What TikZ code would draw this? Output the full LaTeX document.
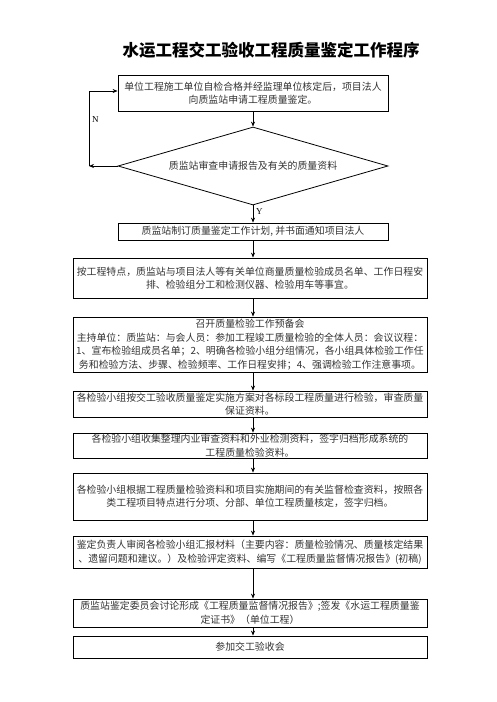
\documentclass[tikz,border=0pt]{standalone}
\usepackage{fontspec}
\setmainfont{Liberation Serif}
\newfontfamily\cjk{Noto Sans CJK SC}
\usetikzlibrary{shapes.geometric,arrows.meta}
\tikzset{
  txt/.style={font=\cjk\fontsize{9.9}{13.5}\selectfont, text=black!80},
  box/.style={draw, line width=0.8pt, txt, align=center, inner sep=1pt},
  narrowbox/.style={box, minimum width=270pt},
  widebox/.style={box, minimum width=354pt},
  arr/.style={line width=0.7pt, -{Stealth[length=5pt,width=4pt]}},
  lbl/.style={font=\fontsize{9}{10}\selectfont, inner sep=0pt}
}
\begin{document}
\begin{tikzpicture}[x=1pt,y=-1pt]
\useasboundingbox (0,0) rectangle (496,702);
\node[font=\cjk\bfseries\fontsize{16.5}{18}\selectfont] (title) at (271,50) {水运工程交工验收工程质量鉴定工作程序};
\node[narrowbox, minimum height=36pt] (b1) at (253,93) {单位工程施工单位自检合格并经监理单位核定后，项目法人\\向质监站申请工程质量鉴定。};
\node[draw, line width=0.8pt, diamond, aspect=3.46, minimum width=270pt, minimum height=78pt, inner sep=0pt, txt] (d) at (253,166) {质监站审查申请报告及有关的质量资料};
\node[narrowbox, minimum height=17pt] (b3) at (253,231.5) {质监站制订质量鉴定工作计划, 并书面通知项目法人};
\node[widebox, minimum height=40pt] (b4) at (250,278) {按工程特点，质监站与项目法人等有关单位商量质量检验成员名单、工作日程安\\排、检验组分工和检测仪器、检验用车等事宜。};
\node[widebox, minimum height=55pt] (b5) at (250,344.5) {召开质量检验工作预备会\\主持单位：质监站：与会人员：参加工程竣工质量检验的全体人员：会议议程：\\1、宣布检验组成员名单；2、明确各检验小组分组情况，各小组具体检验工作任\\务和检验方法、步骤、检验频率、工作日程安排；4、强调检验工作注意事项。};
\node[widebox, minimum height=26pt] (b6) at (250,404) {各检验小组按交工验收质量鉴定实施方案对各标段工程质量进行检验，审查质量\\保证资料。};
\node[widebox, minimum height=25pt] (b7) at (250,445.5) {各检验小组收集整理内业审查资料和外业检测资料，签字归档形成系统的\\工程质量检验资料。};
\node[widebox, minimum height=47pt] (b8) at (250,496.5) {各检验小组根据工程质量检验资料和项目实施期间的有关监督检查资料，按照各\\类工程项目特点进行分项、分部、单位工程质量核定，签字归档。};
\node[widebox, minimum height=32pt] (b9) at (250,552) {鉴定负责人审阅各检验小组汇报材料（主要内容：质量检验情况、质量核定结果\\、遗留问题和建议。）及检验评定资料、编写《工程质量监督情况报告》(初稿)};
\node[widebox, minimum height=28pt] (b10) at (250,613) {质监站鉴定委员会讨论形成《工程质量监督情况报告》;签发《水运工程质量鉴\\定证书》（单位工程）};
\node[widebox, minimum height=22pt] (b11) at (250,647) {参加交工验收会};
\coordinate (c1) at (89,166);
\coordinate (c2) at (89,91);
\draw[arr] (b1.south) -- (d.north);
\draw[arr] (d.west) -- (c1);
\draw[arr] (c1) -- (c2) -- (c2 -| b1.west);
\node[lbl, anchor=north west] (n) at (92,116) {N};
\draw[arr] (d.south) -- (d.south |- b3.north);
\node[lbl, anchor=north west] (y) at (256,208) {Y};
\draw[arr] (b3.south) -- (b3.south |- b4.north);
\draw[arr] (b3.south |- b4.south) -- (b3.south |- b5.north);
\draw[arr] (b3.south |- b5.south) -- (b3.south |- b6.north);
\draw[arr] (b3.south |- b6.south) -- (b3.south |- b7.north);
\draw[arr] (b3.south |- b7.south) -- (b3.south |- b8.north);
\draw[arr] (b3.south |- b8.south) -- (b3.south |- b9.north);
\draw[arr] (b3.south |- b9.south) -- (b3.south |- b10.north);
\draw[arr] (b3.south |- b10.south) -- (b3.south |- b11.north);
\end{tikzpicture}
\end{document}
